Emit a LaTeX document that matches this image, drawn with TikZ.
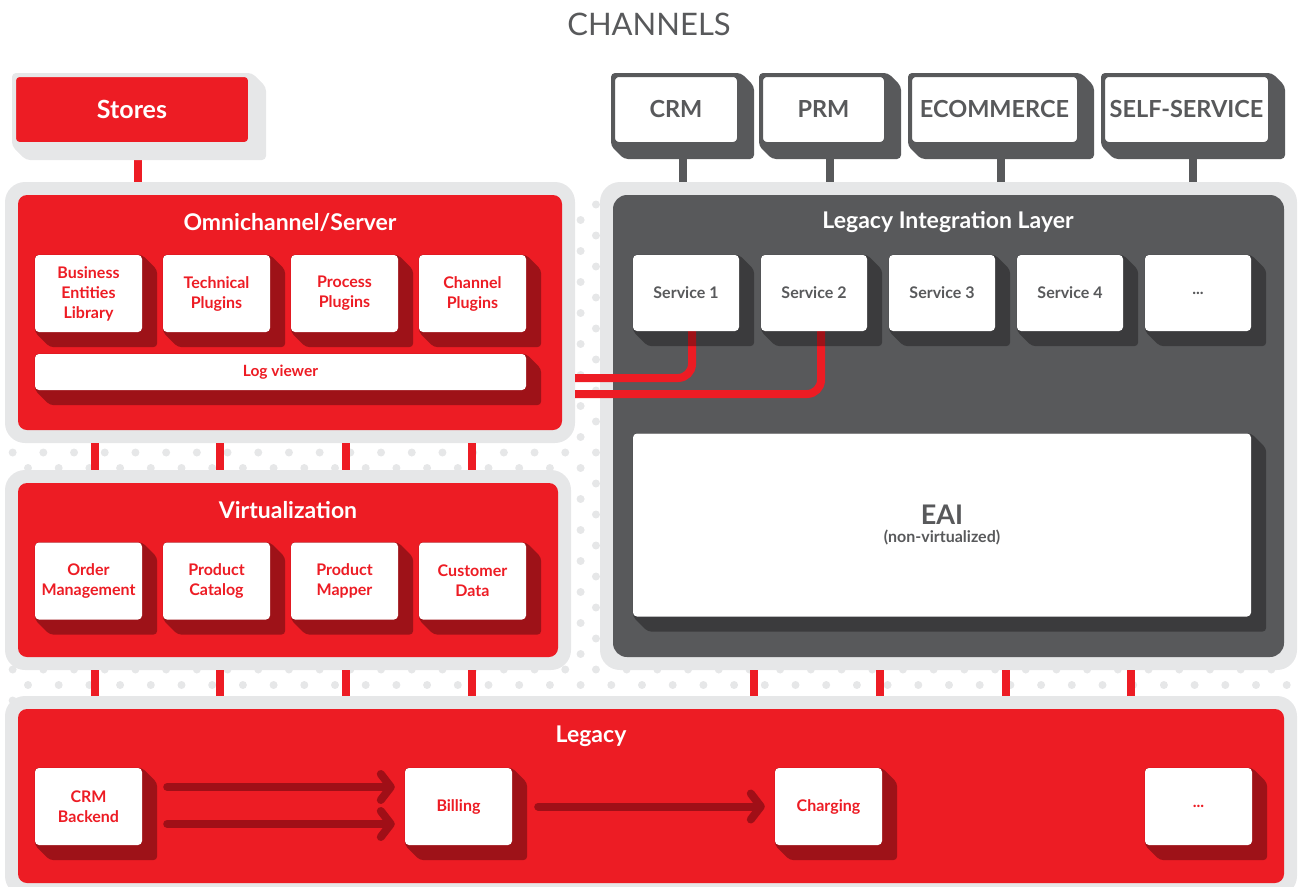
\documentclass[tikz,border=0pt]{standalone}
\usepackage{fontspec}
\setmainfont{Lato}
\usetikzlibrary{arrows.meta}

\definecolor{brandred}{HTML}{ED1C24}
\definecolor{deepred}{HTML}{A00F17}
\definecolor{slate}{HTML}{58595B}
\definecolor{mist}{HTML}{E6E7E8}

\pgfdeclarelayer{dots}
\pgfdeclarelayer{panels}
\pgfdeclarelayer{links}
\pgfdeclarelayer{depth}
\pgfsetlayers{dots,panels,links,depth,main}

\tikzset{
  wrap/.style={fill=mist,rounded corners=20pt,inner sep=0pt},
  redpanel/.style={fill=brandred,rounded corners=9pt,inner sep=0pt},
  greypanel/.style={fill=slate,rounded corners=14pt,inner sep=0pt},
  paneltitle/.style={text=white,font=\fontsize{23}{27}\selectfont\bfseries},
  redbox/.style={fill=white,rounded corners=4pt,text=brandred,align=center,minimum width=107pt,minimum height=77pt,inner sep=2pt,font=\fontsize{16}{20}\selectfont\bfseries},
  svcbox/.style={fill=white,rounded corners=4pt,text=slate,align=center,minimum width=106pt,minimum height=76pt,inner sep=2pt,font=\fontsize{16}{20}\selectfont\bfseries},
  chanbox/.style={fill=white,draw=slate,line width=4pt,rounded corners=6pt,text=slate,minimum height=69pt,inner sep=2pt,font=\fontsize{23.5}{27}\selectfont\bfseries},
  shade/.style={fill=black,fill opacity=.33},
  redbar/.style={brandred,line width=8pt},
  greybar/.style={slate,line width=8pt},
  redlink/.style={brandred,line width=8pt,rounded corners=14pt},
  flow/.style={deepred,line width=8pt,line cap=round,-{Straight Barb[length=10pt,width=26pt,round]}},
}

% 3d edge below and right of a box
\newcommand\boxdepth[3][15]{%
  \fill[#3,rounded corners=4pt] (#2.north west) -- (#2.north east) -- ++(#1,#1)
    -- ([shift={(#1,#1)}]#2.south east) -- ([shift={(#1,#1)}]#2.south west)
    -- (#2.south west) -- cycle;}

\begin{document}
\begin{tikzpicture}[x=1pt,y=-1pt]
\useasboundingbox (0,0) rectangle (1298,886);

% dotted backdrop
\begin{pgfonlayer}{dots}
\foreach \j in {1,...,45}{
  \pgfmathsetmacro\dy{189+15.5*\j}
  \pgfmathsetmacro\dx{28-15.35*mod(\j,2)}
  \foreach \k in {0,...,42}{
    \fill[mist] (\dx+30.7*\k,\dy) circle (4pt);
  }
}
\end{pgfonlayer}

% panels
\begin{pgfonlayer}{panels}
\node[wrap,minimum width=570pt,minimum height=261pt] (omniwrap) at (290,312.5) {};
\node[redpanel,minimum width=544pt,minimum height=235pt] (omni) at (omniwrap.center) {};
\node[wrap,minimum width=566pt,minimum height=200pt] (virtwrap) at (288,570) {};
\node[redpanel,minimum width=540pt,minimum height=174pt] (virt) at (virtwrap.center) {};
\node[wrap,minimum width=697pt,minimum height=488pt] (lilwrap) at (948.5,426) {};
\node[greypanel,minimum width=671pt,minimum height=462pt] (lil) at (lilwrap.center) {};
\node[wrap,minimum width=1292pt,minimum height=200pt] (legwrap) at (651,796) {};
\node[redpanel,minimum width=1266pt,minimum height=174pt] (leg) at (legwrap.center) {};
\end{pgfonlayer}

\node[text=slate,font=\fontsize{31}{35}\selectfont] (chtitle) at (649,24) {CHANNELS};

\node[fill=brandred,draw=mist,line width=4pt,rounded corners=5pt,minimum width=236pt,minimum height=69pt,text=white,font=\fontsize{25}{29}\selectfont\bfseries] (stores) at (132,109.5) {Stores};

\node[chanbox,minimum width=126pt] (crm) at (676,109.5) {CRM};
\node[chanbox,minimum width=125pt] (prm) at (823.5,109.5) {PRM};
\node[chanbox,minimum width=169pt] (ecom) at (994.5,109.5) {ECOMMERCE};
\node[chanbox,minimum width=167pt] (self) at (1186.5,109.5) {SELF-SERVICE};

\node[paneltitle] (omnititle) at (290,222) {Omnichannel/Server};
\node[redbox] (bel) at (88.5,293.5) {Business\\Entities\\Library};
\node[redbox] (tpl) at (216.5,293.5) {Technical\\Plugins};
\node[redbox] (ppl) at (344.5,293.5) {Process\\Plugins};
\node[redbox] (cpl) at (472.5,293.5) {Channel\\Plugins};
\node[redbox,minimum width=491pt,minimum height=36pt,font=\fontsize{15.5}{19}\selectfont\bfseries] (logv) at (280.5,372) {Log viewer};

\node[paneltitle] (virttitle) at (288,510) {Virtualization};
\node[redbox] (ordm) at (88.5,581) {Order\\Management};
\node[redbox] (pcat) at (216.5,581) {Product\\Catalog};
\node[redbox] (pmap) at (344.5,581) {Product\\Mapper};
\node[redbox] (cdat) at (472.5,581) {Customer\\Data};

\node[paneltitle] (liltitle) at (948,222) {Legacy Integration Layer};
\node[svcbox] (svc1) at (686,293) {Service 1};
\node[svcbox] (svc2) at (814,293) {Service 2};
\node[svcbox] (svc3) at (942,293) {Service 3};
\node[svcbox] (svc4) at (1070,293) {Service 4};
\node[svcbox] (svcmore) at (1198,293) {...};
\node[svcbox,minimum width=618pt,minimum height=183pt] (eai) at (942,525) {{\fontsize{27}{30}\selectfont EAI}\\[-2pt]{\fontsize{16}{19}\selectfont (non-virtualized)}};

\node[paneltitle] (legtitle) at (591,736) {Legacy};
\node[redbox] (crmb) at (88.5,806.5) {CRM\\Backend};
\node[redbox] (bill) at (458.5,806.5) {Billing};
\node[redbox] (chrg) at (828.5,806.5) {Charging};
\node[redbox] (lgmore) at (1198.5,806.5) {...};

% connectors
\begin{pgfonlayer}{links}
\draw[redbar] (stores.south -| 138,0) -- (omniwrap.north -| 138,0);
\draw[greybar] ([xshift=6.5pt]crm.south) -- ([xshift=6.5pt]crm.south |- lilwrap.north);
\draw[greybar] ([xshift=6.5pt]prm.south) -- ([xshift=6.5pt]prm.south |- lilwrap.north);
\draw[greybar] ([xshift=6.5pt]ecom.south) -- ([xshift=6.5pt]ecom.south |- lilwrap.north);
\draw[greybar] ([xshift=6.5pt]self.south) -- ([xshift=6.5pt]self.south |- lilwrap.north);
\foreach \x in {95,220,346,472}{
  \draw[redbar] (omniwrap.south -| \x,0) -- (virtwrap.north -| \x,0);
  \draw[redbar] (virtwrap.south -| \x,0) -- (legwrap.north -| \x,0);
}
\foreach \x in {754,880,1006,1131}{
  \draw[redbar] (lilwrap.south -| \x,0) -- (legwrap.north -| \x,0);
}
\draw[redlink] (omniwrap.east |- 0,378) -| ([xshift=6pt]svc1.south);
\draw[redlink] (omniwrap.east |- 0,394) -| ([xshift=7pt]svc2.south);
\draw[flow] ([xshift=25pt,yshift=19.5pt]crmb.east) -- ([xshift=-10pt,yshift=19.5pt]bill.west);
\draw[flow] ([xshift=25pt,yshift=-17.5pt]crmb.east) -- ([xshift=-10pt,yshift=-17.5pt]bill.west);
\draw[flow] ([xshift=26pt]bill.east) -- ([xshift=-10pt]chrg.west);
\end{pgfonlayer}

% box edges
\begin{pgfonlayer}{depth}
\boxdepth[14]{stores}{mist}
\foreach \n in {crm,prm,ecom,self}{
  \boxdepth[13]{\n}{slate}
}
\foreach \n in {bel,tpl,ppl,cpl,logv,ordm,pcat,pmap,cdat,crmb,bill,chrg,lgmore,svc1,svc2,svc3,svc4,svcmore,eai}{
  \boxdepth{\n}{shade}
}
\end{pgfonlayer}
\end{tikzpicture}
\end{document}
